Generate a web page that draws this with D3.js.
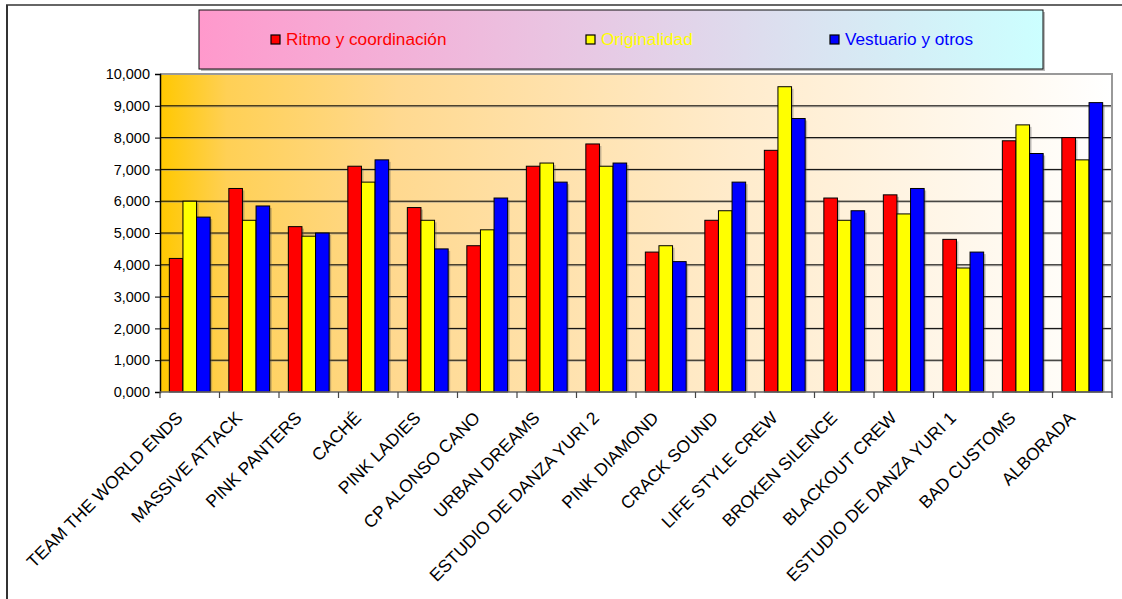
<!DOCTYPE html>
<html>
<head>
<meta charset="utf-8">
<script src="https://cdn.jsdelivr.net/npm/d3@7"></script>
<style>
  html, body { margin: 0; padding: 0; background: #fff; }
  svg { display: block; font-family: Arial, "Liberation Sans", sans-serif; }
</style>
</head>
<body>
<svg id="chart" width="1122" height="599"></svg>
<script>
const categories = ["TEAM THE WORLD ENDS","MASSIVE ATTACK","PINK PANTERS","CACHÉ","PINK LADIES","CP ALONSO CANO","URBAN DREAMS","ESTUDIO DE DANZA YURI 2","PINK DIAMOND","CRACK SOUND","LIFE STYLE CREW","BROKEN SILENCE","BLACKOUT CREW","ESTUDIO DE DANZA YURI 1","BAD CUSTOMS","ALBORADA"];
const seriesNames = ["Ritmo y coordinación","Originalidad","Vestuario y otros"];
const seriesColors = ["#FF0000","#FFFF00","#0000FF"];
const ritmo        = [4.2,6.4,5.2,7.1,5.8,4.6,7.1,7.8,4.4,5.4,7.6,6.1,6.2,4.8,7.9,8.0];
const originalidad = [6.0,5.4,4.9,6.6,5.4,5.1,7.2,7.1,4.6,5.7,9.6,5.4,5.6,3.9,8.4,7.3];
const vestuario    = [5.5,5.85,5.0,7.3,4.5,6.1,6.6,7.2,4.1,6.6,8.6,5.7,6.4,4.4,7.5,9.1];
const yTicks = [0,1,2,3,4,5,6,7,8,9,10];

const seriesValues = [ritmo, originalidad, vestuario];
const svg = d3.select("#chart");
const defs = svg.append("defs");

// gradients
const pg = defs.append("linearGradient").attr("id","plotGrad").attr("x1","0%").attr("x2","100%").attr("y1","0%").attr("y2","0%");
[["0%","#FFC800"],["7%","#FFD055"],["25%","#FFD990"],["60%","#FFEBCB"],["100%","#FFFFFF"]].forEach(s=>pg.append("stop").attr("offset",s[0]).attr("stop-color",s[1]));
const lg = defs.append("linearGradient").attr("id","legGrad").attr("x1","0%").attr("x2","100%").attr("y1","0%").attr("y2","0%");
[["0%","#FF99CC"],["100%","#CCFFFF"]].forEach(s=>lg.append("stop").attr("offset",s[0]).attr("stop-color",s[1]));

// outer frame
svg.append("line").attr("x1",7).attr("x2",7).attr("y1",5).attr("y2",599).attr("stroke","#333").attr("stroke-width",2);
svg.append("line").attr("x1",6).attr("x2",1122).attr("y1",5).attr("y2",5).attr("stroke","#333").attr("stroke-width",1.5);

const plot = {left:160, right:1112, top:74, bottom:392};

const x0 = d3.scaleBand().domain(categories).range([plot.left, plot.right]).padding(0);
const step = x0.step();
const x1 = d3.scaleBand().domain(d3.range(3)).range([step*0.157, step*0.843]).padding(0);
const y = d3.scaleLinear().domain([0,10]).range([plot.bottom, plot.top]);

// plot background
svg.append("rect").attr("x",plot.left).attr("y",plot.top).attr("width",plot.right-plot.left).attr("height",plot.bottom-plot.top).attr("fill","url(#plotGrad)");

// gridlines
const grid = svg.append("g");
yTicks.filter(t=>t>0 && t<10).forEach(t=>{
  grid.append("line").attr("x1",plot.left).attr("x2",plot.right).attr("y1",y(t)+1).attr("y2",y(t)+1).attr("stroke","#888").attr("stroke-opacity",0.6).attr("stroke-width",1);
  grid.append("line").attr("x1",plot.left).attr("x2",plot.right).attr("y1",y(t)).attr("y2",y(t)).attr("stroke","#000").attr("stroke-width",1);
});

// plot border (top/right gray)
svg.append("path").attr("d",`M${plot.left},${plot.top}H${plot.right}V${plot.bottom}`).attr("fill","none").attr("stroke","#999").attr("stroke-width",2);

// bars
const groups = svg.append("g").selectAll("g").data(categories).join("g").attr("transform",d=>`translate(${x0(d)},0)`);
const barData = (c,i)=>seriesValues.map((vals,s)=>({s, v: vals[i]}));
groups.each(function(c,i){
  const g = d3.select(this);
  const data = barData(c,i);
  g.selectAll("rect.shadow").data(data).join("rect").attr("class","shadow")
    .attr("x",d=>x1(d.s)+2).attr("y",d=>y(d.v)+2).attr("width",x1.bandwidth()).attr("height",d=>plot.bottom-y(d.v)-2)
    .attr("fill","#555").attr("fill-opacity",0.35);
  g.selectAll("rect.bar").data(data).join("rect").attr("class","bar")
    .attr("x",d=>x1(d.s)).attr("y",d=>y(d.v)).attr("width",x1.bandwidth()).attr("height",d=>plot.bottom-y(d.v))
    .attr("fill",d=>seriesColors[d.s]).attr("stroke","#000").attr("stroke-width",1);
});

// y axis
const yAxis = d3.axisLeft(y).tickValues(yTicks).tickSize(5).tickFormat(d=>d.toFixed(3).replace(".",","));
const ya = svg.append("g").attr("transform",`translate(${plot.left},0)`).call(yAxis);
ya.select(".domain").attr("stroke","#000").attr("stroke-width",1.5);
ya.selectAll(".tick line").attr("stroke","#000");
ya.selectAll(".tick text").attr("font-size","14.5px").attr("fill","#000").attr("font-family","Arial, 'Liberation Sans', sans-serif").attr("dx","-2");

// x axis with ticks at category boundaries
const xa = svg.append("g");
xa.append("line").attr("x1",plot.left).attr("x2",plot.right).attr("y1",plot.bottom).attr("y2",plot.bottom).attr("stroke","#666").attr("stroke-width",1.5);
d3.range(categories.length+1).forEach(k=>{
  const xx = plot.left + k*step;
  xa.append("line").attr("x1",xx).attr("x2",xx).attr("y1",plot.bottom).attr("y2",plot.bottom+6).attr("stroke","#444").attr("stroke-width",1.2);
});
xa.selectAll("text.cat").data(categories).join("text").attr("class","cat")
  .attr("transform",d=>`translate(${x0(d)+step/2-6},${plot.bottom+27}) rotate(-45)`)
  .attr("text-anchor","end").attr("font-size","17.5px").attr("fill","#000")
  .text(d=>d);

// legend
const leg = svg.append("g");
leg.append("rect").attr("x",201).attr("y",12).attr("width",844).attr("height",59).attr("fill","#777").attr("fill-opacity",0.5);
leg.append("rect").attr("x",199).attr("y",10).attr("width",844).attr("height",59).attr("fill","url(#legGrad)").attr("stroke","#111").attr("stroke-width",1);
const legX = [271, 586, 830];
seriesNames.forEach((n,i)=>{
  leg.append("rect").attr("x",legX[i]).attr("y",35).attr("width",9).attr("height",9).attr("fill",seriesColors[i]).attr("stroke","#000").attr("stroke-width",1.2);
  leg.append("text").attr("x",legX[i]+15).attr("y",44.5).attr("font-size","17.2px").attr("fill",seriesColors[i]).text(n);
});
</script>
</body>
</html>
